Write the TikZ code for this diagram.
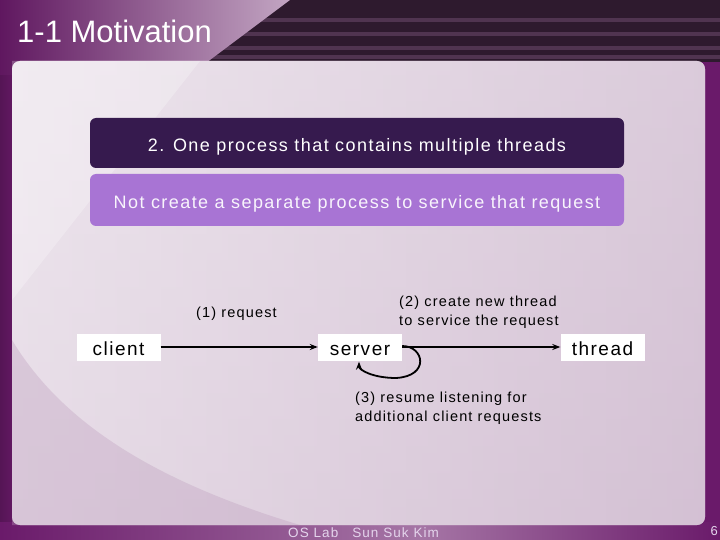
\documentclass[tikz,border=0pt]{standalone}
\usepackage{fontspec}
\setmainfont{Liberation Sans}
\newfontfamily\gul[LetterSpace=8]{Liberation Sans}
\usetikzlibrary{arrows.meta,calc}
\definecolor{bgpurple}{HTML}{6A1A6A}
\definecolor{topdark}{HTML}{2E1A2E}
\definecolor{stripe}{HTML}{503450}
\definecolor{panelA}{HTML}{E8DEE8}
\definecolor{panelB}{HTML}{D2BED2}
\definecolor{boxdark}{HTML}{361A4E}
\definecolor{boxlight}{HTML}{A874D4}
\definecolor{foottxt}{HTML}{E4D4EC}
\tikzset{
  wbox/.style={fill=white,draw=none,minimum width=84pt,minimum height=27pt,inner sep=0pt,text height=17pt,text depth=1pt,font=\gul\fontsize{19}{19}\selectfont},
  banner/.style={rounded corners=6pt,draw=none,minimum width=534pt,minimum height=50pt,inner sep=0pt,text height=17pt,text depth=0pt,font=\gul\fontsize{18}{18}\selectfont},
  lbl/.style={font=\gul\fontsize{14.5}{19.5}\selectfont,align=left,inner sep=0pt},
  conn/.style={line width=1.8pt,-{Stealth[length=8pt,width=6pt]}}
}
\begin{document}
\begin{tikzpicture}[x=1pt,y=-1pt]
\useasboundingbox (0,0) rectangle (720,540);
% background
\fill[bgpurple] (0,0) rectangle (720,540);
\shade[left color=bgpurple!80!black,right color=bgpurple] (0,60) rectangle (20,540);
% top band
\fill[topdark] (0,0) rectangle (720,62);
\foreach \yy in {18,32,46,55}{\fill[stripe] (0,\yy) rectangle (720,\yy+4);}
% title gradient wedge
\shade[left color=bgpurple!90!black,right color=panelB!85!bgpurple] (0,0) -- (290,0) -- (190,75) -- (0,75) -- cycle;
% bottom band
\shade[left color=bgpurple,right color=bgpurple!60!white] (0,522) rectangle (420,540);
\shade[left color=bgpurple!60!white,right color=bgpurple] (420,522) rectangle (720,540);
% panel
\shade[top color=panelA,bottom color=panelB!90!white,rounded corners=8pt] (12,61) rectangle (705,525);
\shade[left color=panelA!60!white,right color=panelB,rounded corners=8pt,opacity=0.6] (12,61) rectangle (705,525);
\fill[panelB!80!bgpurple,opacity=0.35] (12,340) .. controls (60,420) and (150,480) .. (300,525) -- (12,525) -- cycle;
\fill[white,opacity=0.25] (12,61) -- (200,61) -- (12,300) -- cycle;
% title
\node[anchor=west,text=white,font=\fontsize{31}{31}\selectfont,inner sep=0pt] (title) at (17,31) {1-1 Motivation};
% banners
\node[banner,fill=boxdark,text=white] (b1) at (357,143) {2. One process that contains multiple threads};
\node[banner,fill=boxlight,text=white!92!boxlight,minimum height=52pt] (b2) at (357,200) {Not create a separate process to service that request};
% nodes
\node[wbox] (client) at (118.5,347) {client};
\node[wbox] (server) at (360,347) {server};
\node[wbox] (thread) at (602.5,347) {thread};
% connectors
\draw[conn] (client.east) -- (server.west);
\draw[conn] (server.east) -- (thread.west);
\coordinate (loopA) at ($(server.east)+(0,-1)$);
\coordinate (loopB) at ($(server.south)+(-1,1)$);
\draw[line width=1.8pt,-{Stealth[length=8pt,width=6pt]}] (loopA) .. controls ($(loopA)+(22,0)$) and ($(loopA)+(28,30)$) .. ($(loopA)+(-6,32)$) .. controls ($(loopA)+(-30,32)$) and ($(loopB)+(0,8)$) .. (loopB);
% labels
\node[lbl,anchor=west] (l1) at (196,314) {(1) request};
\node[lbl,anchor=west] (l2) at (399,312) {(2) create new thread\\to service the request};
\node[lbl,anchor=west] (l3) at (355,408) {(3) resume listening for\\additional client requests};
% footer
\node[anchor=west,text=foottxt,font=\gul\fontsize{13.5}{13.5}\selectfont,inner sep=0pt] (foot) at (288,533) {OS Lab\hspace{14pt}Sun Suk Kim};
\node[anchor=east,text=foottxt,font=\fontsize{13}{13}\selectfont,inner sep=0pt] (page) at (718,531) {6};
\end{tikzpicture}
\end{document}
